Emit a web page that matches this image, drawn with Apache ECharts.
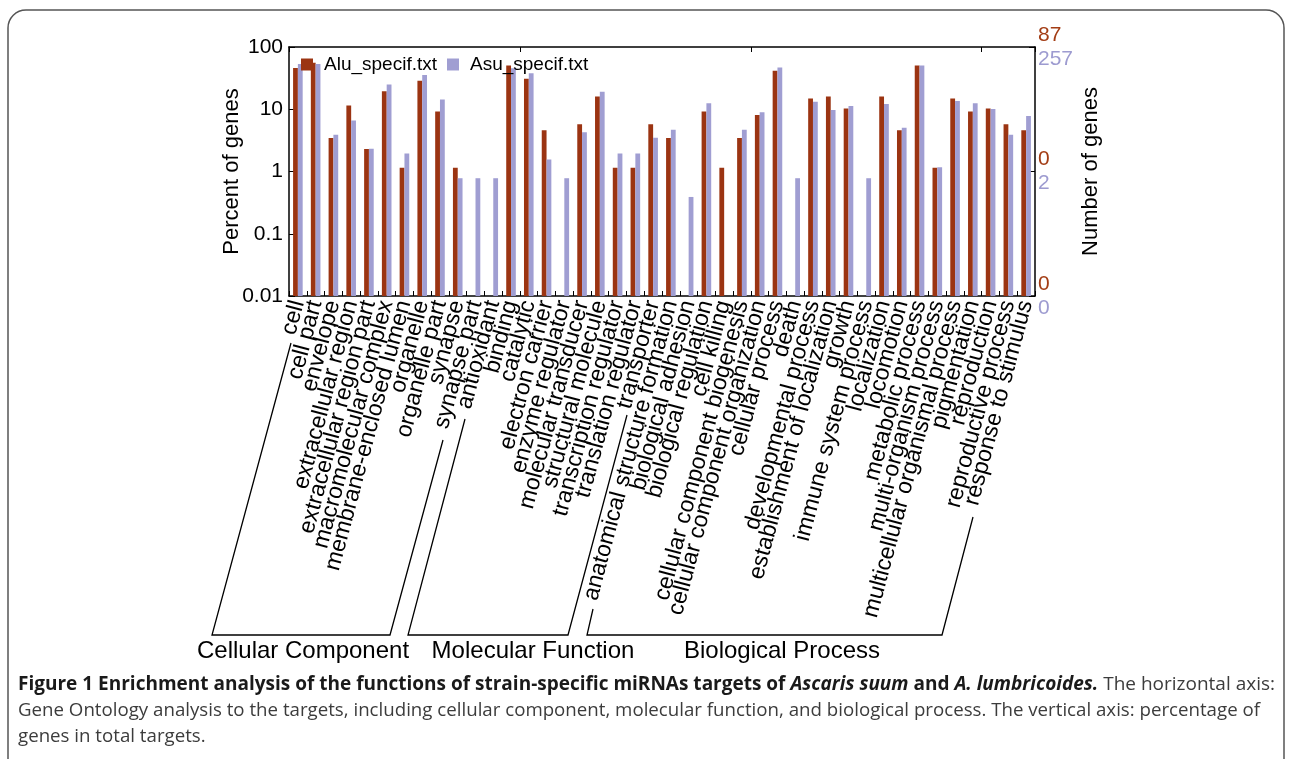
<!DOCTYPE html>
<html>
<head>
<meta charset="utf-8">
<script src="https://cdn.jsdelivr.net/npm/echarts@6/dist/echarts.min.js"></script>
<style>
html,body{margin:0;padding:0;background:#fff;}
#chart{width:1292px;height:759px;}
</style>
</head>
<body>
<div id="chart"></div>
<script>
// ---------- data ----------
const categories = [
  'cell','cell part','envelope','extracellular region','extracellular region part',
  'macromolecular complex','membrane-enclosed lumen','organelle','organelle part','synapse','synapse part',
  'antioxidant','binding','catalytic','electron carrier','enzyme regulator','molecular transducer',
  'structural molecule','transcription regulator','translation regulator','transporter',
  'anatomical structure formation','biological adhesion','biological regulation','cell killing',
  'cellular component biogenesis','cellular component organization','cellular process','death',
  'developmental process','establishment of localization','growth','immune system process',
  'localization','locomotion','metabolic process','multi-organism process',
  'multicellular organismal process','pigmentation','reproduction','reproductive process',
  'response to stimulus'
];
// percent of genes (null = no bar)
const aluPercent = [
  46.0, 56.0, 3.45, 11.5, 2.30, 19.5, 1.15, 28.7, 9.2, 1.15, null,
  null, 50.6, 31.0, 4.6, null, 5.75, 16.1, 1.15, 1.15, 5.75,
  3.45, null, 9.2, 1.15, 3.45, 8.05, 41.4, null, 14.9, 16.1, 10.3, null,
  16.1, 4.6, 50.6, 1.15, 14.9, 9.2, 10.3, 5.75, 4.6
];
const asuPercent = [
  53.3, 53.3, 3.89, 6.6, 2.33, 24.9, 1.95, 35.4, 14.4, 0.78, 0.78,
  0.78, 45.5, 37.7, 1.56, 0.78, 4.28, 19.1, 1.95, 1.95, 3.50,
  4.67, 0.39, 12.5, null, 4.67, 8.95, 46.7, 0.78, 13.2, 9.7, 11.3, 0.78,
  12.1, 5.06, 50.6, 1.17, 13.6, 12.5, 10.1, 3.89, 7.8
];
const seriesNames = ['Alu_specif.txt', 'Asu_specif.txt'];
const axisMin = 0.01, axisMax = 100;
const leftTickLabels = {'-2':'0.01','-1':'0.1','0':'1','1':'10','2':'100'};
const rightTickAlu = {'-2':'0','0':'0','2':'87'};
const rightTickAsu = {'-2':'0','0':'2','2':'257'};
const groupNames = ['Cellular Component','Molecular Function','Biological Process'];
const captionLine1 = [
  ['b','Figure 1 Enrichment analysis of the functions of strain-specific miRNAs targets of '],
  ['bi','Ascaris suum'],['b',' and '],['bi','A. lumbricoides.'],['n',' The horizontal axis:']
];
const captionLine2 = 'Gene Ontology analysis to the targets, including cellular component, molecular function, and biological process. The vertical axis: percentage of';
const captionLine3 = 'genes in total targets.';

// ---------- styles ----------
const FONT = '"Liberation Sans", Arial, Helvetica, sans-serif';
const CAP_FONT = '"Open Sans", sans-serif';
const RED = '#9b3412';
const BLUE = '#a09ed2';
const RED_TXT = '#a33d15';
const BLUE_TXT = '#9d9bd0';
const BAR_W = 4.8;

const chart = echarts.init(document.getElementById('chart'), null, {renderer:'canvas'});

function expOf(v){ return String(Math.round(Math.log10(v))); }

// caption horizontal scaling to imitate the condensed face of the reference
const cv = document.createElement('canvas').getContext('2d');
cv.font = '19px ' + CAP_FONT;
const capScale = 1242 / cv.measureText(captionLine2).width;
let w1 = 0;
captionLine1.forEach(p => {
  cv.font = (p[0]==='b' ? 'bold ' : p[0]==='bi' ? 'italic bold ' : '') + '19px ' + CAP_FONT;
  w1 += cv.measureText(p[1]).width;
});
const capScale1 = 1257 / w1;

const esc = s => s.replace(/[{}]/g,'');
const line1Rich = captionLine1.map(p => '{' + p[0] + '|' + esc(p[1]) + '}').join('');

const axisBase = {
  axisLine:{show:true, lineStyle:{color:'#000', width:1.5}},
  splitLine:{show:false}
};

function barSeries(name, values, color, side){
  const data = [];
  values.forEach((v, i) => { if (v != null) data.push([i, v]); });
  return {
    name, type:'custom', xAxisIndex:0, yAxisIndex:0, data,
    itemStyle:{color},
    encode:{x:0, y:1},
    renderItem(params, api){
      const i = api.value(0), v = api.value(1);
      const top = api.coord([i, v]);
      const base = api.coord([i, axisMin]);
      const x = side < 0 ? top[0] - BAR_W : top[0];
      return {type:'rect', shape:{x, y:top[1], width:BAR_W, height:base[1]-top[1]},
              style:{fill:color}};
    }
  };
}

const bracketStyle = {stroke:'#000', lineWidth:1.3, fill:null};

chart.setOption({
  animation:false,
  backgroundColor:'#fff',
  textStyle:{fontFamily:FONT},
  grid:{left:289, right:257, top:47, bottom:463, containLabel:false},
  legend:{
    left:296, top:50, icon:'rect', itemWidth:12, itemHeight:12, itemGap:10,
    data:seriesNames,
    textStyle:{fontSize:19, color:'#000', fontFamily:FONT, padding:[0,0,0,6]}
  },
  xAxis:[
    Object.assign({}, axisBase, {
      type:'category', data:categories, position:'bottom',
      axisTick:{show:true, inside:true, length:5, lineStyle:{color:'#000'}},
      axisLabel:{interval:0, rotate:75, fontSize:23, color:'#000', margin:5, fontFamily:FONT}
    }),
    Object.assign({}, axisBase, {
      type:'category', data:categories, position:'top',
      axisTick:{show:true, inside:true, length:5, lineStyle:{color:'#000'}},
      axisLabel:{show:false}
    })
  ],
  yAxis:[
    Object.assign({}, axisBase, {
      type:'log', logBase:10, min:axisMin, max:axisMax, position:'left',
      name:'Percent of genes', nameLocation:'middle', nameGap:46, nameMoveOverlap:false,
      nameTextStyle:{fontSize:22, color:'#000', fontFamily:FONT},
      axisTick:{show:true, inside:true, length:6, lineStyle:{color:'#000'}},
      axisLabel:{fontSize:21, color:'#000', margin:6, fontFamily:FONT,
        formatter:v => leftTickLabels[expOf(v)] || ''}
    }),
    Object.assign({}, axisBase, {
      type:'log', logBase:10, min:axisMin, max:axisMax, interval:2, position:'right',
      name:'Number of genes', nameLocation:'middle', nameGap:45, nameRotate:90, nameMoveOverlap:false,
      nameTextStyle:{fontSize:22, color:'#000', fontFamily:FONT},
      axisTick:{show:true, inside:true, length:6, lineStyle:{color:'#000'}},
      axisLabel:{margin:3, fontFamily:FONT, lineHeight:24,
        formatter:v => { const e = expOf(v); if(rightTickAlu[e]===undefined) return '';
          return '{a|' + rightTickAlu[e] + '}\n{b|' + rightTickAsu[e] + '}'; },
        rich:{a:{color:RED_TXT, fontSize:21, lineHeight:24, fontFamily:FONT},
              b:{color:BLUE_TXT, fontSize:21, lineHeight:24, fontFamily:FONT}}
      }
    })
  ],
  series:[
    barSeries(seriesNames[0], aluPercent, RED, -1),
    barSeries(seriesNames[1], asuPercent, BLUE, 1)
  ],
  graphic:[
    {type:'rect', shape:{x:8, y:10, width:1276, height:820, r:18},
     style:{fill:null, stroke:'#555', lineWidth:1.5}, silent:true, z:-1},
    {type:'polyline', shape:{points:[[291,343],[212,635],[390,635],[443,440]]}, style:bracketStyle},
    {type:'polyline', shape:{points:[[465,419],[408,635],[568,635],[627,415]]}, style:bracketStyle},
    {type:'polyline', shape:{points:[[593,609],[587,635],[942,635],[973,517]]}, style:bracketStyle},
    {type:'text', x:303, y:651, style:{text:groupNames[0], fontSize:24, fontFamily:FONT, fill:'#000', align:'center', verticalAlign:'middle'}},
    {type:'text', x:533, y:651, style:{text:groupNames[1], fontSize:24, fontFamily:FONT, fill:'#000', align:'center', verticalAlign:'middle'}},
    {type:'text', x:782, y:651, style:{text:groupNames[2], fontSize:24, fontFamily:FONT, fill:'#000', align:'center', verticalAlign:'middle'}},
    {type:'text', x:18, y:685, scaleX:capScale1, style:{
      text:line1Rich, verticalAlign:'middle', align:'left',
      rich:{
        b:{fontSize:19, fontWeight:'bold', fontFamily:CAP_FONT, fill:'#1a1a1a'},
        bi:{fontSize:19, fontWeight:'bold', fontStyle:'italic', fontFamily:CAP_FONT, fill:'#1a1a1a'},
        n:{fontSize:19, fontFamily:CAP_FONT, fill:'#3c3c3c'}
      }}},
    {type:'text', x:18, y:711, scaleX:capScale, style:{text:captionLine2, fontSize:19, fontFamily:CAP_FONT, fill:'#3c3c3c', verticalAlign:'middle', align:'left'}},
    {type:'text', x:18, y:737, scaleX:capScale, style:{text:captionLine3, fontSize:19, fontFamily:CAP_FONT, fill:'#3c3c3c', verticalAlign:'middle', align:'left'}}
  ]
});
</script>
</body>
</html>
